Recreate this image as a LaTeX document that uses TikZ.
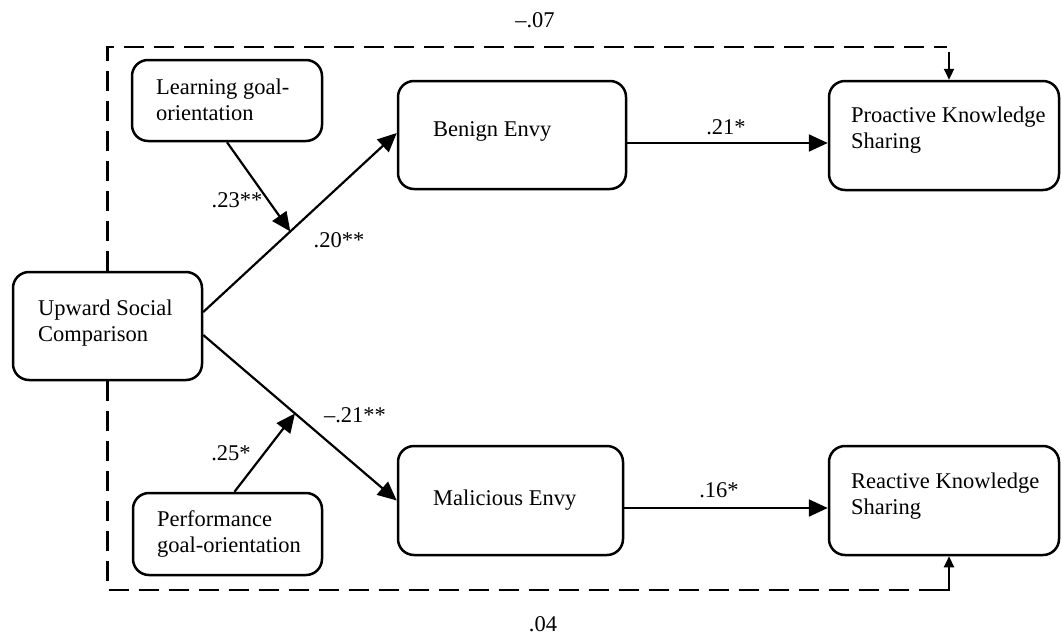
\documentclass[tikz,border=0pt]{standalone}
\usepackage{fontspec}
\setmainfont{Liberation Serif}
\usetikzlibrary{arrows.meta,calc}
\tikzset{
  box/.style={draw, line width=2.5pt, rounded corners=16pt, inner sep=0pt},
  txt/.style={anchor=west, align=left, inner sep=0pt, font=\fontsize{22.5}{26}\selectfont},
  lab/.style={inner sep=0pt, font=\fontsize{22.5}{26}\selectfont},
  arr/.style={line width=2.2pt, -{Triangle[length=19pt,width=17pt]}},
  sarr/.style={line width=2.2pt, -{Triangle[length=11pt,width=10pt]}},
  dashline/.style={line width=2.6pt, dash pattern=on 20pt off 10pt}
}
\begin{document}
\begin{tikzpicture}[x=1pt,y=1pt]
\fill[white] (0,0) rectangle (1062,-637);
\useasboundingbox (0,0) rectangle (1062,-637);

% boxes
\node[box, minimum width=189pt, minimum height=108pt] (usc) at (107.5,-326) {};
\node[box, minimum width=190pt, minimum height=81pt] (lgo) at (227,-100.5) {};
\node[box, minimum width=189pt, minimum height=82pt] (pgo) at (227.5,-534) {};
\node[box, minimum width=228pt, minimum height=108pt] (be) at (512,-135) {};
\node[box, minimum width=225pt, minimum height=109pt] (me) at (510.5,-500.5) {};
\node[box, minimum width=230pt, minimum height=109pt] (pks) at (944,-135.5) {};
\node[box, minimum width=230pt, minimum height=109pt] (rks) at (944,-500.5) {};

% box texts
\node[txt] (usct) at (38,-323) {Upward Social\\Comparison};
\node[txt] (lgot) at (156,-100) {Learning goal-\\orientation};
\node[txt] (pgot) at (157,-533.5) {Performance\\goal-orientation};
\node[txt] (bet) at (433,-131) {Benign Envy};
\node[txt] (met) at (433,-500) {Malicious Envy};
\node[txt] (pkst) at (851,-130) {Proactive Knowledge\\Sharing};
\node[txt] (rkst) at (851,-496) {Reactive Knowledge\\Sharing};

% main paths
\coordinate (ua) at ([yshift=14pt]usc.east);
\coordinate (ub) at ([yshift=-9pt]usc.east);
\coordinate (bw) at ([yshift=2pt]be.west);
\draw[arr] (ua) -- (bw);
\draw[arr] (ub) -- (me.west);
\coordinate (m1) at ($(ua)!0.45!(bw)$);
\coordinate (m2) at ($(ub)!0.474!(me.west)$);
\draw[arr] (lgo.south) -- (m1);
\draw[arr] ([xshift=7pt]pgo.north) -- (m2);
\draw[arr] ([yshift=-8pt]be.east) -- ([yshift=-7.5pt]pks.west);
\draw[arr] ([yshift=-7.5pt]me.east) -- ([yshift=-7.5pt]rks.west);

% direct (dashed) paths
\coordinate (c1) at (947,-47);
\coordinate (c1t) at (949,-52);
\draw[dashline] (usc.north) |- (c1);
\draw[sarr] (c1t) -- ([xshift=5pt]pks.north);
\coordinate (c2) at (937,-590);
\draw[dashline] (usc.south) |- (c2);
\draw[line width=2.6pt] (c2) -| (949,-578) coordinate (c3);
\draw[sarr] (c3) -- ([xshift=5pt]rks.south);

% labels
\node[lab] (l23) at (237,-200) {.23**};
\node[lab] (l20) at (339,-240) {.20**};
\node[lab] (l25) at (231,-453) {.25*};
\node[lab] (l21n) at (355,-415) {\textendash.21**};
\node[lab] (l21) at (726,-127) {.21*};
\node[lab] (l16) at (719,-490) {.16*};
\node[lab] (l07) at (535,-20) {\textendash.07};
\node[lab] (l04) at (543,-624) {.04};
\end{tikzpicture}
\end{document}
